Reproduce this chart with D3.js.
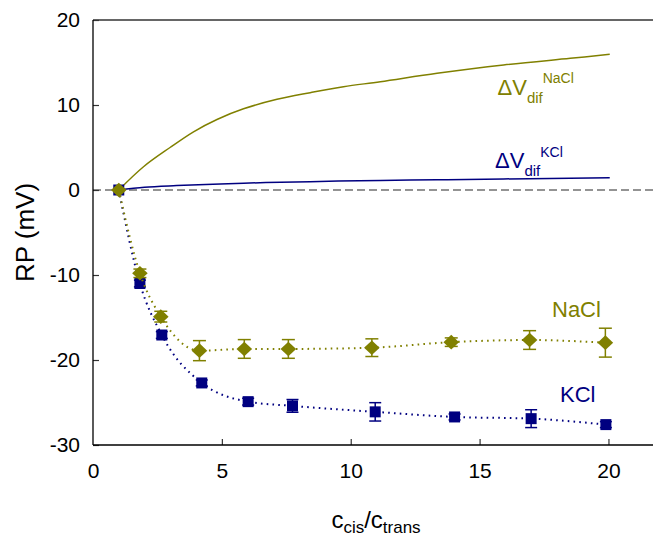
<!DOCTYPE html>
<html>
<head>
<meta charset="utf-8">
<script src="https://cdn.jsdelivr.net/npm/d3@7"></script>
<style>
  html, body { margin: 0; padding: 0; background: #fff; }
  svg { display: block; font-family: "Liberation Sans", Arial, sans-serif; }
</style>
</head>
<body>
<svg id="chart" width="653" height="536"></svg>
<script>
// Concentration ratios (c_cis / c_trans) and measured reversal potentials (mV)
const kclRatio  = [1, 1.82, 2.67, 4.22, 6.02, 7.74, 10.95, 14.03, 17.0, 19.9];
const kclRP     = [0, -11.0, -17.06, -22.7, -24.9, -25.4, -26.1, -26.7, -26.9, -27.6];
const kclErr    = [0, 0.4, 0.4, 0.35, 0.4, 0.75, 1.08, 0.35, 1.05, 0.35];

const naclRatio = [1, 1.82, 2.63, 4.13, 5.87, 7.58, 10.82, 13.9, 16.94, 19.88];
const naclRP    = [0, -9.8, -14.9, -18.9, -18.7, -18.7, -18.55, -17.9, -17.65, -17.96];
const naclErr   = [0, 0.5, 0.63, 1.18, 1.1, 1.1, 1.04, 0.5, 1.1, 1.7];

// Diffusion potential curves
const dvNaclRatio = [1, 1.96, 2.99, 3.90, 4.81, 5.84, 7.14, 8.43, 9.72, 11.15, 13.35, 15.93, 18.52, 20.05];
const dvNaclMV    = [0, 2.74, 5.0, 6.85, 8.3, 9.55, 10.67, 11.45, 12.15, 12.74, 13.73, 14.71, 15.49, 15.96];
const dvKclRatio  = [1, 2, 3.25, 5.84, 8.43, 11.15, 13.35, 15.93, 20.05];
const dvKclMV     = [0, 0.33, 0.52, 0.8, 0.98, 1.13, 1.2, 1.3, 1.45];

const xTicks = [0, 5, 10, 15, 20];
const yTicks = [-30, -20, -10, 0, 10, 20];

const OLIVE = "#808000";
const NAVY = "#000080";

const svg = d3.select("#chart");
const plotLeft = 93, plotTop = 20, plotRight = 660, plotBottom = 445;

const x = d3.scaleLinear().domain([0, 22]).range([plotLeft, plotRight]);
const y = d3.scaleLinear().domain([-30, 20]).range([plotBottom, plotTop]);

// frame top line
svg.append("line")
  .attr("x1", plotLeft).attr("x2", plotRight)
  .attr("y1", plotTop).attr("y2", plotTop)
  .attr("stroke", "#666").attr("stroke-width", 2);

// zero reference
svg.append("line")
  .attr("x1", plotLeft).attr("x2", plotRight)
  .attr("y1", y(0)).attr("y2", y(0))
  .attr("stroke", "#707070").attr("stroke-width", 1.6)
  .attr("stroke-dasharray", "8,4");

// axes
const xAxis = d3.axisBottom(x).tickValues(xTicks).tickSize(-6).tickPadding(18)
  .tickFormat(d => String(d));
const yAxis = d3.axisLeft(y).tickValues(yTicks).tickSize(-6).tickPadding(13)
  .tickFormat(d => String(d));

const gx = svg.append("g").attr("transform", `translate(0,${plotBottom})`).call(xAxis);
const gy = svg.append("g").attr("transform", `translate(${plotLeft},0)`).call(yAxis);

[gx, gy].forEach(g => {
  g.selectAll("text").attr("font-size", 21).attr("fill", "#000")
    .attr("font-family", "'Liberation Sans', Arial, sans-serif");
  g.selectAll(".tick line").attr("stroke", "#333").attr("stroke-width", 1.2);
});
gx.select(".domain").remove();
gy.select(".domain").remove();
gx.selectAll(".tick").filter(d => d === 0).select("line").remove();

svg.append("line")
  .attr("x1", plotLeft).attr("x2", plotRight).attr("y1", plotBottom).attr("y2", plotBottom)
  .attr("stroke", "#000").attr("stroke-width", 1.7);
svg.append("line")
  .attr("x1", plotLeft).attr("x2", plotLeft).attr("y1", plotTop).attr("y2", plotBottom)
  .attr("stroke", "#000").attr("stroke-width", 1.3);

// diffusion potential curves
const smoothGen = d3.line().x(d => x(d[0])).y(d => y(d[1])).curve(d3.curveCatmullRom.alpha(0.5));
svg.append("path")
  .datum(d3.zip(dvNaclRatio, dvNaclMV))
  .attr("d", smoothGen).attr("fill", "none")
  .attr("stroke", OLIVE).attr("stroke-width", 1.5);
svg.append("path")
  .datum(d3.zip(dvKclRatio, dvKclMV))
  .attr("d", smoothGen).attr("fill", "none")
  .attr("stroke", NAVY).attr("stroke-width", 1.5);

// measured series
const lineGen = d3.line().x(d => x(d[0])).y(d => y(d[1])).curve(d3.curveMonotoneX);
function drawSeries(ratio, rp, err, color, shape, capHalf) {
  const data = d3.zip(ratio, rp, err);
  svg.append("path")
    .datum(data)
    .attr("d", lineGen).attr("fill", "none")
    .attr("stroke", color).attr("stroke-width", 2)
    .attr("stroke-dasharray", "1.6,4.2");

  const g = svg.append("g");
  data.filter(d => d[2] > 0).forEach(d => {
    const cx = x(d[0]);
    g.append("line").attr("x1", cx).attr("x2", cx)
      .attr("y1", y(d[1] - d[2])).attr("y2", y(d[1] + d[2]))
      .attr("stroke", color).attr("stroke-width", 1.5);
    [d[1] - d[2], d[1] + d[2]].forEach(v => {
      g.append("line").attr("x1", cx - capHalf).attr("x2", cx + capHalf)
        .attr("y1", y(v)).attr("y2", y(v))
        .attr("stroke", color).attr("stroke-width", 1.5);
    });
  });

  g.selectAll("path.mark").data(data).enter().append("path")
    .attr("class", "mark")
    .attr("d", d => shape(x(d[0]), y(d[1])))
    .attr("fill", color);
}

const square = (cx, cy) => {
  const h = 5.5;
  return `M${cx - h},${cy - h}H${cx + h}V${cy + h}H${cx - h}Z`;
};
const diamond = (cx, cy) => {
  const w = 7.8, h = 7.3;
  return `M${cx},${cy - h}L${cx + w},${cy}L${cx},${cy + h}L${cx - w},${cy}Z`;
};

drawSeries(kclRatio, kclRP, kclErr, NAVY, square, 6);
drawSeries(naclRatio, naclRP, naclErr, OLIVE, diamond, 6.5);

// series labels
svg.append("text").attr("x", 552).attr("y", 317)
  .attr("font-size", 22).attr("fill", OLIVE).text("NaCl");
svg.append("text").attr("x", 560).attr("y", 402)
  .attr("font-size", 22).attr("fill", NAVY).text("KCl");

function dvLabel(x0, y0, sup, color, supDy) {
  const t = svg.append("text").attr("x", x0).attr("y", y0).attr("fill", color);
  t.append("tspan").attr("font-size", 22).text("\u0394V");
  t.append("tspan").attr("font-size", 15).attr("dy", 7.5).text("dif");
  t.append("tspan").attr("font-size", 14).attr("dy", supDy).text(sup);
}
dvLabel(497.5, 95, "NaCl", OLIVE, -19.5);
dvLabel(495, 168, "KCl", NAVY, -18.5);

// axis titles
const xt = svg.append("text").attr("x", 376).attr("y", 528)
  .attr("text-anchor", "middle").attr("fill", "#000");
xt.append("tspan").attr("font-size", 24).text("c");
xt.append("tspan").attr("font-size", 17).attr("dy", 5).text("cis");
xt.append("tspan").attr("font-size", 24).attr("dy", -5).text("/c");
xt.append("tspan").attr("font-size", 17).attr("dy", 5).text("trans");

svg.append("text")
  .attr("transform", `translate(34,${(plotTop + plotBottom) / 2}) rotate(-90)`)
  .attr("text-anchor", "middle").attr("font-size", 26).attr("fill", "#000")
  .text("RP (mV)");
</script>
</body>
</html>
